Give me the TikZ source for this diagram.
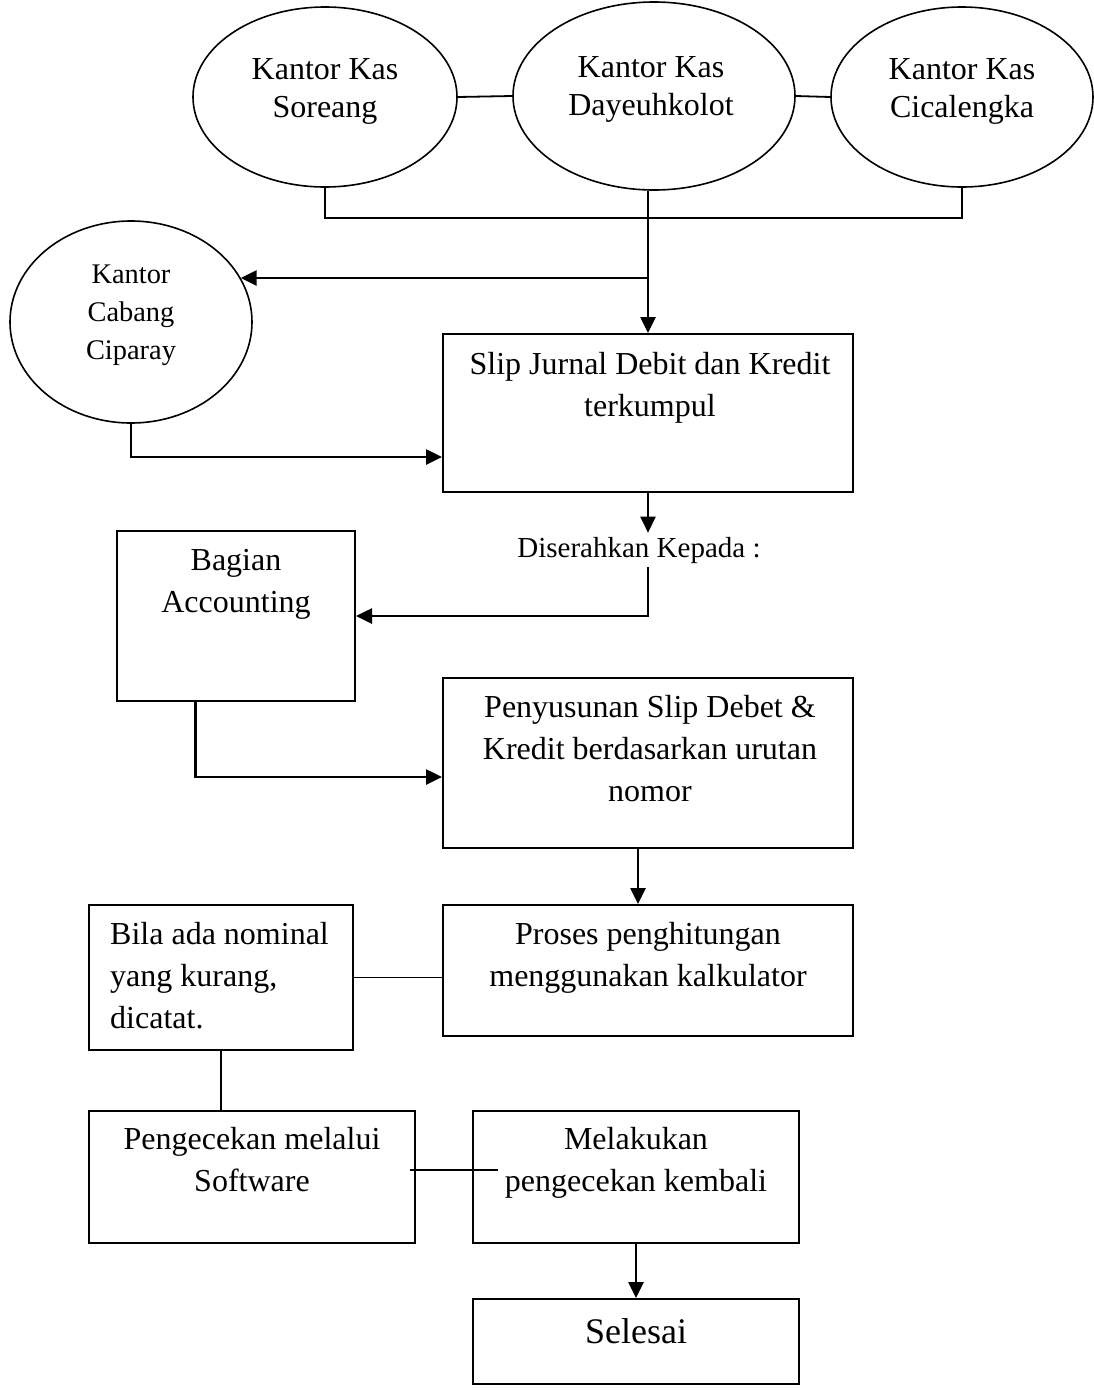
\documentclass[tikz,border=0pt]{standalone}
\usepackage{fontspec}
\setmainfont{Liberation Serif}
\usetikzlibrary{calc}
\usetikzlibrary{shapes}
\usetikzlibrary{arrows.meta}

\begin{document}
\begin{tikzpicture}[x=1pt, y=-1pt,
    oval/.style={draw, ellipse, line width=1.6pt, inner sep=0pt},
    kotak/.style={draw, rectangle, line width=2pt, inner sep=0pt},
    teks/.style={align=center, anchor=base, inner sep=0pt, font=\fontsize{32}{42}\selectfont},
    teksoval/.style={teks, font=\fontsize{32}{38}\selectfont},
    garis/.style={line width=1.8pt},
    panah/.style={line width=2.6pt, -{Triangle[length=16pt,width=15pt]}}]
    \useasboundingbox (0,0) rectangle (1094,1390);
    % kantor kas
    \node[oval, minimum width=264, minimum height=180] (soreang) at (325,97) {};
    \node[oval, minimum width=282, minimum height=188] (dayeuh) at (654,96) {};
    \node[oval, minimum width=262, minimum height=180] (cical) at (962,97) {};
    \node[teksoval] (soreang-t) at (325,117) {Kantor Kas\\Soreang};
    \node[teksoval] (dayeuh-t) at (651,115) {Kantor Kas\\Dayeuhkolot};
    \node[teksoval] (cical-t) at (962,117) {Kantor Kas\\Cicalengka};
    % kantor cabang
    \node[oval, minimum width=242, minimum height=202] (ciparay) at (131,322) {};
    \node[teks, font=\fontsize{28.4}{38}\selectfont] (ciparay-t) at (131,359) {Kantor\\Cabang\\Ciparay};
    % kotak proses
    \node[kotak, minimum width=410, minimum height=158] (slip) at (648,413) {};
    \node[teks] (slip-t) at (650,416) {Slip Jurnal Debit dan Kredit\\terkumpul};
    \node[teks, inner sep=4pt, font=\fontsize{29}{36}\selectfont] (diser) at (639,557) {Diserahkan Kepada :};
    \node[kotak, minimum width=238, minimum height=170] (bagian) at (236,616) {};
    \node[teks] (bagian-t) at (236,612) {Bagian\\Accounting};
    \node[kotak, minimum width=410, minimum height=170] (peny) at (648,763) {};
    \node[teks] (peny-t) at (650,801) {Penyusunan Slip Debet \&\\Kredit berdasarkan urutan\\nomor};
    \node[kotak, minimum width=410, minimum height=131] (proses) at (648,970.5) {};
    \node[teks] (proses-t) at (648,986) {Proses penghitungan\\menggunakan kalkulator};
    \node[kotak, minimum width=264, minimum height=145] (bila) at (221,977.5) {};
    \node[teks, align=left, anchor=base west] (bila-t) at (110,1028) {Bila ada nominal\\yang kurang,\\dicatat.};
    \node[kotak, minimum width=326, minimum height=132] (peng) at (252,1177) {};
    \node[teks] (peng-t) at (252,1191) {Pengecekan melalui\\Software};
    \node[kotak, minimum width=326, minimum height=132] (melak) at (636,1177) {};
    \node[teks] (melak-t) at (636,1191) {Melakukan\\pengecekan kembali};
    \node[kotak, minimum width=326, minimum height=85] (selesai) at (636,1341.5) {};
    \node[teks, font=\fontsize{36}{42}\selectfont] (selesai-t) at (636,1343) {Selesai};
    % penghubung atas
    \coordinate (bus) at (648,218);
    \coordinate (split) at (648,278);
    \draw[garis] (soreang.east) -- (dayeuh.west);
    \draw[garis] (dayeuh.east) -- (cical.west);
    \draw[garis] (soreang.south) |- (bus) -| (cical.south);
    \draw[panah] (slip.north |- dayeuh.south) -- (slip.north);
    \draw[panah] (split) -- (split -| ciparay.22);
    \draw[panah] (ciparay.south) |- ($(slip.west)+(0,44)$);
    % penghubung tengah
    \draw[panah] (slip.south) -- (slip.south |- diser.north);
    \draw[panah] (slip.south |- diser.south) |- (bagian.east);
    \draw[panah] ($(bagian.south west)!0.33!(bagian.south east)$) |- ($(peny.west)+(0,14)$);
    \draw[panah] ($(peny.south)+(-10,0)$) -- ($(proses.north)+(-10,0)$);
    % penghubung bawah
    \draw[garis] (bila.east) -- (bila.east -| proses.west);
    \draw[garis] (bila.south) -- (bila.south |- peng.north);
    \draw[garis] ($(peng.east)+(-6,-7)$) -- ($(melak.west)+(26,-7)$);
    \draw[panah] (melak.south) -- (selesai.north);
\end{tikzpicture}
\end{document}
